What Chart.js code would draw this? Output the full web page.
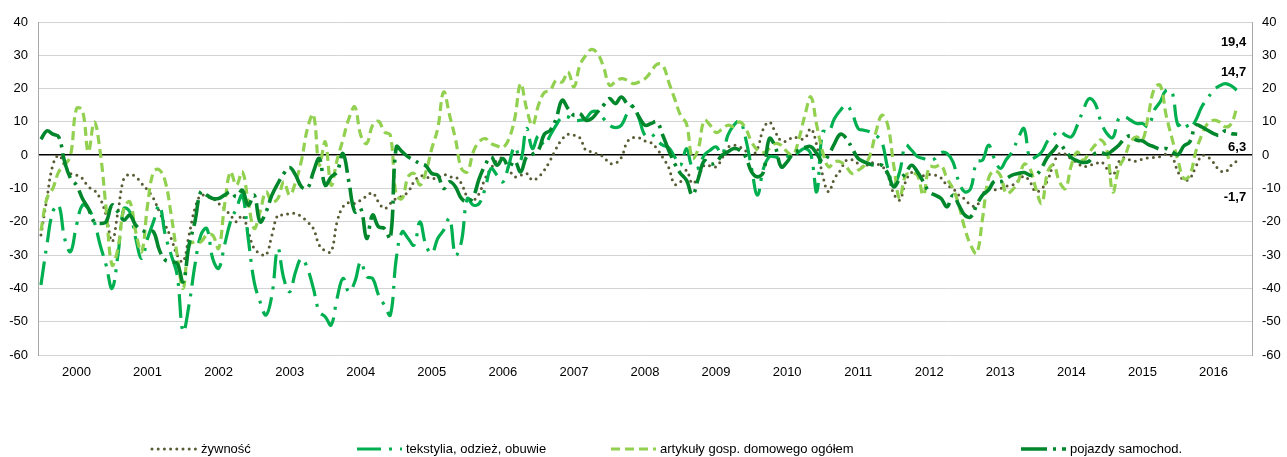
<!DOCTYPE html>
<html lang="pl">
<head>
<meta charset="utf-8">
<title>Sprzedaż detaliczna – grupy towarów</title>
<script src="https://cdn.jsdelivr.net/npm/chart.js@4.4.1/dist/chart.umd.min.js"></script>
<style>
  html, body { margin: 0; padding: 0; background: #fff; }
  #wrap { width: 1287px; height: 457px; }
</style>
</head>
<body>
<div id="wrap"><canvas id="chart" width="1287" height="457"></canvas></div>
<script>
// year labels under the time axis
const years = ['2000','2001','2002','2003','2004','2005','2006','2007','2008',
               '2009','2010','2011','2012','2013','2014','2015','2016'];

// monthly categories from Jan 2000 (axis runs two months past the last reading)
const months = [];
for (let y = 2000; y <= 2017; y++) {
  for (let m = 1; m <= 12; m++) months.push(y + '-' + String(m).padStart(2, '0'));
}
months.length = 205;

const yTicks = [-60, -50, -40, -30, -20, -10, 0, 10, 20, 30, 40];

// monthly balances, Jan 2000 – Nov 2016
const zywnosc = [
  -24, -13, -3, 0, -3, -5.5, -6, -7, -9.5, -10.5, -13, -18,
  -26, -17, -7, -5.8, -6.5, -8.5, -10.5, -13, -17, -21, -25, -30,
  -32, -24, -16, -12, -12.5, -13, -14.5, -16, -18, -20, -18, -23,
  -28, -29.5, -30, -24, -18, -18, -17.5, -17.5, -18.5, -20, -22, -27,
  -28.7, -29, -20, -15.5, -14.2, -14.5, -13.5, -12.3, -11.3, -14, -16, -14.5,
  -13, -12.3, -11, -8, -6.2, -6.5, -7, -6.8, -5.8, -6.5, -6.5, -8.5,
  -12.5, -13.5, -11.5, -7, -4, -1.5, -1, -4, -6.5, -6, -5.5, -7.5,
  -6.5, -4.5, -1.5, 2, 4.8, 6.3, 6, 5.2, 1.5, 1, 0.3, -0.5,
  -2.4, -2.4, -0.7, 4, 5.3, 5.2, 4.3, 3.8, 2, -0.7, -3.7, -8.7,
  -8, -4.5, -8.5, -6.5, -3, -3.2, -3.5, -1, 2.3, 3, 2.5, 1.3,
  -0.2, 2, 8, 10, 7, 4.3, 4.3, 5.5, 5, 5, 8, 3,
  -6, -11, -7, -4.5, -1.5, -1.4, -2.5, -3.7, -2.2, -2.7, -3.2, -6,
  -11.5, -13.5, -8, -5.2, -5.8, -6.2, -5.8, -6, -6.8, -9, -10, -12,
  -13.2, -15, -15.2, -11.7, -10.3, -10.4, -10, -9.3, -9, -7.7, -6.3, -8,
  -11, -10, -7.5, -2.5, 0.5, 0.3, -1.2, -2.2, -3.5, -3, -2.7, -2,
  -4, -6, -2, -0.7, -1.5, -1.8, -1.2, -0.8, -0.7, -0.4, 0.3, -0.5,
  -5, -7.5, -7, -3.5, -0.2, -0.5, -2.2, -4.5, -5, -3, -1.7
];

const tekstylia = [
  -39, -27, -17, -15, -25, -29, -21, -15, -16, -20, -27, -33,
  -40, -30, -16, -17, -25, -31, -25, -20, -15, -24, -30, -36,
  -53, -45, -33, -24, -22, -31, -34, -27, -20, -16, -12, -25,
  -38, -44, -48, -42, -28, -37, -41, -35, -31, -34, -40, -47,
  -48.5, -51, -43, -37, -41, -38, -32, -36.5, -37, -42, -45, -48,
  -31, -23, -25, -27, -20, -27, -29.5, -25, -22.5, -19, -30, -26,
  -13, -15, -14.5, -10, -4, -6, -8, -3, 2.5, -1.5, 8, 2,
  5.8, 3, 6, 9, 11.5, 11.5, 10.5, 10.5, 11, 13, 13, 11,
  9, 8.3, 9, 12.5, 14.8, 11, 6, 6.5, 4.5, 3, 2.3, -0.5,
  -3, 2, -3.7, -3.8, 0, 1.5, 2.5, 0.3, 6, 9, 10.3, 5,
  -4, -12, -4, -0.5, -0.5, -0.7, -0.3, -0.5, 1, 2, 0.3, -11,
  7, 7, 11, 13.5, 15, 12.5, 8, 7.5, 7, 6, 4, -4,
  -9, -5, 3, 1.5, -0.4, -1, -1.5, -1, 0.8, 0.5, -2, -8,
  -11, -10, -2, -1.5, 3, -1, -4, -1.3, 1, 5, 8, -1,
  -0.5, 1, 4.3, 6, 7.3, 6, 5.5, 9, 13.5, 17, 15.5, 10,
  6.5, 5.3, 11, 11.5, 10.5, 9.5, 9.5, 8.5, 13.5, 16, 19.5, 19,
  9, 10, 8, 10.5, 14.5, 17, 19.5, 20.8, 21.5, 20.8, 19.4
];

const artykuly = [
  -22.7, -13, -10, -5, -3, 0, 14, 13.5, 1, 10, 1, -16,
  -33, -28, -16, -14, -23, -29, -15, -5, -4.4, -8, -18, -30,
  -40, -27, -26, -26, -24, -24, -28, -15, -5, -9, -5, -14,
  -22, -17, -11, -14, -13, -8, -12, -8, -1.5, 8, 12.2, -3,
  4, -9, -1.5, 4.7, 11, 14.5, 6, 3.5, 9, 10.2, 7, 6,
  -12, -13, -6.5, -5.5, -9, -5, 2, 8, 19, 12, 4.8, -4,
  -5, 1, 4, 5, 3.5, 2.8, 2.3, 4.8, 11, 21.5, 14, 9,
  15, 18.8, 19.5, 22.5, 22, 25, 20.5, 27, 30, 31.8, 30.5, 26.5,
  21, 22, 23, 22.5, 21.5, 22, 23, 25, 27.3, 27, 22, 17,
  12, 9.5, -1, 2, 10.5, 9, 6.8, 7.8, 9, 8.6, 10, 8,
  4, 1.5, 0.8, 2, 3.5, 3, 1, 0, 5, 12, 17.5, 9,
  1, -3.5, -2, -2, -3.5, -5.5, -4.5, -3.2, 0, 7, 12, 9,
  -3, -13, -6, -5.5, -6, -12, -3.5, -3.5, -3, -7, -10, -15,
  -22, -27, -29.5, -19, -7, -4.7, -6, -11.5, -10.5, -8, -2.7, -4,
  -10, -14.5, -5, -3, -8, -10, -3, 1, -1.5, 0.8, 3, 4.6,
  1.5, -11, -4, -0.5, 4, 5.5, 4.5, 12, 20, 21, 12, 5,
  -1.5, -7, -6, 1, 6, 9.5, 10.5, 10, 8.5, 9.5, 14.7
];

const pojazdy = [
  4.8, 7.3, 6.3, 5.5, -2, -7, -9, -13, -16, -20, -20.5, -20,
  -15, -17, -19.5, -18, -21, -22.5, -23, -23, -28.5, -31.5, -32, -32.5,
  -38, -27, -20, -11, -12, -13, -13, -12, -11, -12.5, -10.5, -15,
  -12, -20, -17, -12, -8.5, -5.5, -3.7, -6, -9.5, -10, -5, -1,
  -9, -6.5, -5, 0.5, -8, -17, -16, -25, -18, -21.5, -22, -25,
  2.5, 1, -0.5, -1.5, -2.5, -3.2, -5.5, -6, -10, -8, -9.5, -13,
  -14, -12.5, -7, -3, -0.5, -3, -1, -3.5, -1.7, -5, -0.5, 0.3,
  1.5, 6.3, 7.5, 11, 16.5, 14, 12, 12.5, 10.5, 11, 13, 15,
  17, 15.5, 17.5, 15.5, 14.5, 11.5, 9, 9.5, 10, 6, 1.5, -2.5,
  -5.5, -7.5, -12, -7, -1.7, -2.7, -2.2, 0, 1, 2, 1.5, -0.5,
  -5, -6.5, -5, 5, 2.5, -3.5, -2, 0.5, 1.5, 2.3, 2.6, 0.5,
  -2, 0, 3.5, 6.3, 5, 2, -1, -2, -2.7, -3, -3, -5.5,
  -9.5, -7.2, -5.5, -3, -5, -8, -11, -12, -13, -15.5, -12, -15,
  -18, -18.5, -15, -12, -10.5, -7.8, -8, -7, -6, -5.5, -5.2, -6,
  -6, -3.7, -0.5, 1.5, 3.3, 1.3, -0.7, -1.7, -2.2, -1.8, 0.5, 0.8,
  0.3, 1.5, 3, 5, 5.8, 4.5, 4.3, 3.2, 2.5, 1.8, 2, 1,
  0.2, 2.8, 4, 9, 8.5, 7.5, 6.5, 6, 7.3, 6.5, 6.3
];

const FONT = '"Liberation Sans", Arial, sans-serif';

// value labels next to the last reading; dy shifts the text off the line
const endLabels = { 0: 37, 1: -48, 2: -34, 3: 13 };

const endLabelPlugin = {
  id: 'endLabels',
  afterDatasetsDraw(chart) {
    const ctx = chart.ctx;
    ctx.save();
    ctx.font = 'bold 13px ' + FONT;
    ctx.fillStyle = '#000';
    ctx.textAlign = 'right';
    ctx.textBaseline = 'middle';
    chart.data.datasets.forEach((ds, i) => {
      const pts = chart.getDatasetMeta(i).data;
      const last = pts[ds.data.length - 1];
      const v = ds.data[ds.data.length - 1];
      const txt = v.toFixed(1).replace('.', ',');
      ctx.fillText(txt, last.x + 9, last.y + endLabels[i]);
    });
    ctx.restore();
  }
};

// legend row under the axis, drawn by hand so the spacing is free
const legendPos = [
  { x: 152, tx: 201 },
  { x: 357, tx: 406 },
  { x: 611, tx: 660 },
  { x: 1021, tx: 1070 }
];

const legendPlugin = {
  id: 'bottomLegend',
  afterDraw(chart) {
    const ctx = chart.ctx;
    const y = 449;
    ctx.save();
    chart.data.datasets.forEach((ds, i) => {
      const p = legendPos[i];
      ctx.beginPath();
      ctx.strokeStyle = ds.borderColor;
      ctx.lineWidth = ds.borderWidth;
      ctx.lineCap = ds.borderCapStyle || 'butt';
      ctx.setLineDash(ds.borderDash || []);
      ctx.moveTo(p.x, y);
      ctx.lineTo(p.x + 45, y);
      ctx.stroke();
      ctx.setLineDash([]);
      ctx.font = '13px ' + FONT;
      ctx.fillStyle = '#000';
      ctx.textAlign = 'left';
      ctx.textBaseline = 'middle';
      ctx.fillText(ds.label, p.tx, y);
    });
    ctx.restore();
  }
};

const lineBase = { pointRadius: 0, pointHoverRadius: 0, tension: 0.4, fill: false, borderJoinStyle: 'round' };

new Chart(document.getElementById('chart'), {
  type: 'line',
  data: {
    labels: months,
    datasets: [
      Object.assign({}, lineBase, {
        label: 'żywność', data: zywnosc, order: 3,
        borderColor: '#595b34', borderWidth: 3, borderDash: [0, 6.2], borderCapStyle: 'round'
      }),
      Object.assign({}, lineBase, {
        label: 'tekstylia, odzież, obuwie', data: tekstylia, order: 2,
        borderColor: '#00b050', borderWidth: 3.2, borderDash: [24, 8, 3, 8], borderCapStyle: 'butt'
      }),
      Object.assign({}, lineBase, {
        label: 'artykuły gosp. domowego ogółem', data: artykuly, order: 1,
        borderColor: '#92d050', borderWidth: 3.2, borderDash: [9, 5], borderCapStyle: 'butt'
      }),
      Object.assign({}, lineBase, {
        label: 'pojazdy samochod.', data: pojazdy, order: 0,
        borderColor: '#00862b', borderWidth: 3.6, borderDash: [26, 6, 3, 6], borderCapStyle: 'butt'
      })
    ]
  },
  options: {
    responsive: false,
    animation: false,
    events: [],
    layout: { padding: { top: 22, left: 0, right: 0, bottom: 0 } },
    plugins: { legend: { display: false }, tooltip: { enabled: false } },
    scales: {
      x: {
        type: 'category',
        offset: true,
        grid: { display: false, drawTicks: false },
        border: { display: false },
        ticks: {
          autoSkip: false, maxRotation: 0, minRotation: 0, padding: 10,
          color: '#000', font: { family: FONT, size: 13 },
          callback: (v, i) => (i % 12 === 6 && years[Math.floor(i / 12)]) ? years[Math.floor(i / 12)] : null
        },
        afterFit: s => { s.height = 102; }
      },
      y: {
        position: 'left', min: -60, max: 40,
        afterBuildTicks: s => { s.ticks = yTicks.map(v => ({ value: v })); },
        grid: {
          drawTicks: false,
          color: c => c.tick && c.tick.value === 0 ? '#000' : '#d3d3d3',
          lineWidth: c => c.tick && c.tick.value === 0 ? 1.6 : 1
        },
        border: { display: true, color: '#a8a8a8', width: 1 },
        ticks: { padding: 10, color: '#000', font: { family: FONT, size: 13 }, callback: v => String(v) },
        afterFit: s => { s.width = 38; }
      },
      y2: {
        position: 'right', min: -60, max: 40,
        afterBuildTicks: s => { s.ticks = yTicks.map(v => ({ value: v })); },
        grid: { display: false, drawTicks: false },
        border: { display: true, color: '#a8a8a8', width: 1 },
        ticks: { padding: 10, color: '#000', font: { family: FONT, size: 13 }, callback: v => String(v) },
        afterFit: s => { s.width = 35; }
      }
    }
  },
  plugins: [endLabelPlugin, legendPlugin]
});
</script>
</body>
</html>
